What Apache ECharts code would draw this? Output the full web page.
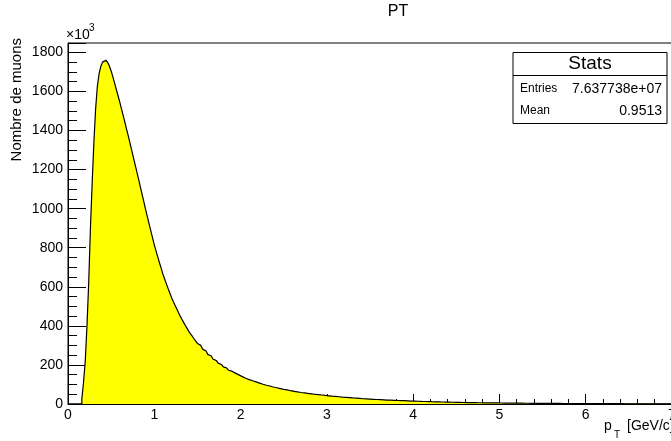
<!DOCTYPE html>
<html>
<head>
<meta charset="utf-8">
<script src="https://cdn.jsdelivr.net/npm/echarts@6/dist/echarts.min.js"></script>
<style>
  html, body { margin: 0; padding: 0; background: #fff; }
  #chart { width: 671px; height: 441px; }
</style>
</head>
<body>
<div id="chart"></div>
<script>
// pT histogram, 0.02 GeV/c bins starting at 0, counts in units of 10^3 muons
const binWidth = 0.02;
const counts = [
  0, 0, 0, 0, 0, 0, 0, 0, 25, 110,
  220, 400, 620, 900, 1130, 1340, 1510, 1625, 1690, 1728,
  1750, 1760, 1758, 1748, 1730, 1705, 1675, 1643, 1610, 1578,
  1545, 1511, 1476, 1441, 1405, 1370, 1333, 1296, 1259, 1222,
  1185, 1147, 1109, 1071, 1033, 995, 958, 922, 886, 850,
  815, 784, 753, 723, 694, 665, 640, 615, 591, 568,
  545, 525, 506, 487, 468, 450, 434, 418, 402, 387,
  372, 359, 347, 334, 322, 310, 300, 290, 281, 271,
  262, 254, 246, 238, 230, 222, 215, 209, 202, 196,
  190, 184, 179, 173, 168, 163, 158, 154, 149, 145,
  140, 136, 132, 129, 125, 122, 119, 116, 113, 110,
  107, 104, 101, 99, 96, 94, 92, 89, 87, 85,
  83, 81, 79, 77, 75, 73, 72, 70, 68, 67,
  65, 64, 62, 61, 59, 58, 57, 56, 54, 53,
  52, 51, 50, 49, 48, 47, 46, 45, 44, 43,
  42, 41, 40, 39, 39, 38, 37, 36, 35, 35,
  34, 33, 33, 32, 31, 31, 30, 29, 29, 28,
  27, 27, 26, 26, 25, 25, 24, 24, 23, 23,
  22, 22, 21, 21, 20, 20, 20, 19, 19, 18,
  18, 18, 17, 17, 17, 16, 16, 16, 15, 15,
  15, 14.6, 14.2, 13.9, 13.5, 13.2, 12.9, 12.6, 12.3, 12.0,
  11.7, 11.4, 11.2, 10.9, 10.7, 10.4, 10.2, 10.0, 9.7, 9.5,
  9.3, 9.1, 8.9, 8.7, 8.5, 8.3, 8.2, 8.0, 7.8, 7.7,
  7.5, 7.3, 7.2, 7.0, 6.9, 6.8, 6.6, 6.5, 6.4, 6.2,
  6.1, 6.0, 5.9, 5.8, 5.7, 5.6, 5.5, 5.4, 5.3, 5.2,
  5.1, 5.0, 4.9, 4.8, 4.7, 4.6, 4.5, 4.5, 4.4, 4.3,
  4.2, 4.1, 4.1, 4.0, 3.9, 3.8, 3.8, 3.7, 3.6, 3.6,
  3.5, 3.4, 3.4, 3.3, 3.3, 3.2, 3.1, 3.1, 3.0, 3.0,
  2.9, 2.9, 2.8, 2.8, 2.7, 2.7, 2.6, 2.6, 2.5, 2.5,
  2.5, 2.4, 2.4, 2.3, 2.3, 2.3, 2.2, 2.2, 2.1, 2.1,
  2.1, 2.0, 2.0, 2.0, 1.9, 1.9, 1.9, 1.8, 1.8, 1.8,
  1.7, 1.7, 1.7, 1.7, 1.6, 1.6, 1.6, 1.5, 1.5, 1.5,
  1.5, 1.4, 1.4, 1.4, 1.4, 1.3, 1.3, 1.3, 1.3, 1.3,
  1.2, 1.2, 1.2, 1.2, 1.1, 1.1, 1.1, 1.1, 1.1, 1.0,
  1.0, 1.0, 1.0, 1.0, 0.9, 0.9, 0.9, 0.9, 0.9, 0.9
];
const statsRows = [
  ['Entries', '7.637738e+07'],
  ['Mean', '0.9513']
];

const font = 'Liberation Sans, Arial, sans-serif';

// step points at the left edge of each bin, plus the closing edge
const stepData = counts.map((c, i) => [+(i * binWidth).toFixed(2), c]);
stepData.push([+(counts.length * binWidth).toFixed(2), counts[counts.length - 1]]);

const chart = echarts.init(document.getElementById('chart'));

const statsX = 513, statsY = 52.5, statsW = 154, statsH = 71;
const statsGraphics = [
  {
    type: 'rect',
    shape: { x: statsX, y: statsY, width: statsW, height: statsH },
    style: { fill: '#fff', stroke: '#000', lineWidth: 1 }
  },
  {
    type: 'line',
    shape: { x1: statsX, y1: 75.5, x2: statsX + statsW, y2: 75.5 },
    style: { stroke: '#000', lineWidth: 1 }
  },
  {
    type: 'text', x: statsX + statsW / 2, y: 64,
    style: { text: 'Stats', font: '19px ' + font, fill: '#000', align: 'center', verticalAlign: 'middle' }
  }
];
statsRows.forEach((row, i) => {
  const y = 89 + i * 22;
  statsGraphics.push({
    type: 'text', x: 520, y: y,
    style: { text: row[0], font: '12px ' + font, fill: '#000', align: 'left', verticalAlign: 'middle' }
  });
  statsGraphics.push({
    type: 'text', x: 662, y: y,
    style: { text: row[1], font: '14px ' + font, fill: '#000', align: 'right', verticalAlign: 'middle' }
  });
});

const option = {
  animation: false,
  backgroundColor: '#fff',
  grid: {
    left: 68, top: 43, width: 604, bottom: 37,
    containLabel: false, outerBoundsMode: 'none',
    show: true, borderColor: '#000', borderWidth: 1
  },
  xAxis: {
    type: 'value',
    min: 0, max: 7, interval: 1,
    axisLine: { lineStyle: { color: '#000', width: 1 } },
    axisTick: { inside: true, length: 10, lineStyle: { color: '#000' } },
    minorTick: { show: true, splitNumber: 5, length: 5, lineStyle: { color: '#000' } },
    splitLine: { show: false },
    axisLabel: { color: '#000', fontFamily: font, fontSize: 14, margin: 4 }
  },
  yAxis: {
    type: 'value',
    min: 0, max: 1848, interval: 200,
    axisLine: { show: true, lineStyle: { color: '#000', width: 1 } },
    axisTick: { show: true, inside: true, length: 18, lineStyle: { color: '#000' } },
    minorTick: { show: true, splitNumber: 4, length: 9, lineStyle: { color: '#000' } },
    splitLine: { show: false },
    axisLabel: {
      color: '#000', fontFamily: font, fontSize: 14, margin: 5, showMaxLabel: false,
      formatter: (v) => String(v)
    }
  },
  series: [{
    type: 'line',
    step: 'end',
    data: stepData,
    symbol: 'none',
    silent: true,
    lineStyle: { color: '#000', width: 1.2 },
    areaStyle: { color: '#ffff00', opacity: 1 }
  }],
  graphic: [
    {
      type: 'text', x: 398, y: 12,
      style: { text: 'PT', font: '16px ' + font, fill: '#000', align: 'center', verticalAlign: 'middle' }
    },
    {
      type: 'text', x: 66, y: 35,
      style: { text: '×10', font: '14px ' + font, fill: '#000', align: 'left', verticalAlign: 'middle' }
    },
    {
      type: 'text', x: 89, y: 28,
      style: { text: '3', font: '10px ' + font, fill: '#000', align: 'left', verticalAlign: 'middle' }
    },
    {
      type: 'text', x: 17, y: 38, rotation: Math.PI / 2,
      style: { text: 'Nombre de muons', font: '15px ' + font, fill: '#000', align: 'right', verticalAlign: 'middle' }
    },
    {
      type: 'text', x: 604, y: 426,
      style: { text: 'p', font: '14px ' + font, fill: '#000', align: 'left', verticalAlign: 'middle' }
    },
    {
      type: 'text', x: 614, y: 435,
      style: { text: 'T', font: '10px ' + font, fill: '#000', align: 'left', verticalAlign: 'middle' }
    },
    {
      type: 'text', x: 627, y: 426,
      style: { text: '[GeV/c]', font: '14px ' + font, fill: '#000', align: 'left', verticalAlign: 'middle' }
    }
  ].concat(statsGraphics)
};

chart.setOption(option);
</script>
</body>
</html>
